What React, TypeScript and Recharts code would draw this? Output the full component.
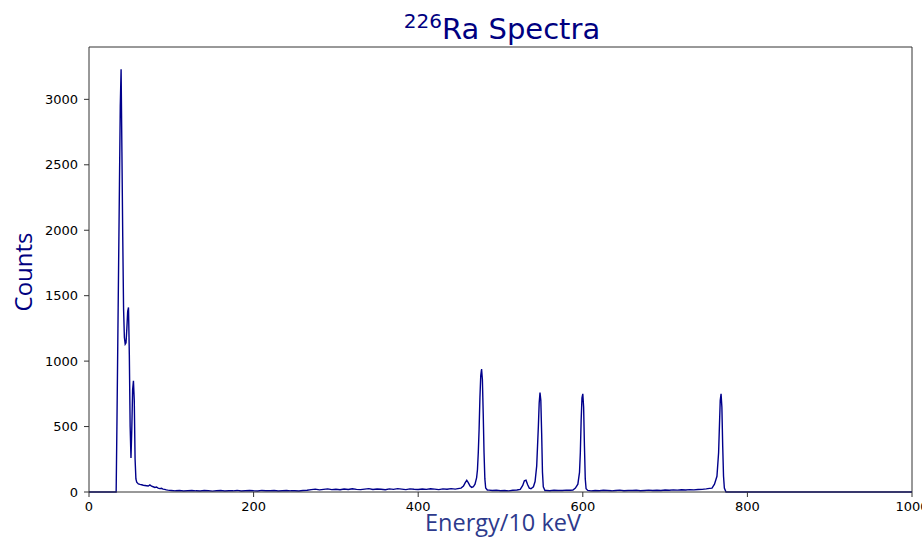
import React from "react";
import {
  LineChart,
  Line,
  XAxis,
  YAxis,
  ReferenceLine,
} from "recharts";

const xrayChannels = [0, 10, 20, 30, 33, 34, 35, 36, 37, 38, 39, 40, 41, 42, 43, 44, 45, 46, 47, 48, 49, 50, 51, 52, 53, 54, 55, 56, 57];
const xrayCounts = [0, 0, 0, 0, 0, 550, 1150, 1750, 2350, 2950, 3230, 2600, 1950, 1400, 1180, 1130, 1140, 1250, 1380, 1410, 1050, 500, 260, 480, 780, 850, 700, 250, 100];

const tailChannels = [58, 60, 62, 64, 66, 68, 70, 72, 74, 76, 78, 80, 82, 84, 86, 88, 90, 92, 94, 96];
const tailCounts = [75, 62, 58, 55, 52, 50, 48, 46, 54, 44, 40, 35, 38, 30, 26, 28, 22, 20, 16, 14];

const flatChannels = [100, 105, 110, 115, 120, 125, 130, 135, 140, 145, 150, 155, 160, 165, 170, 175, 180, 185, 190, 195, 200, 205, 210, 215, 220, 225, 230, 235, 240, 245, 250, 255, 260, 265];
const flatCounts = [12, 9, 11, 8, 10, 12, 9, 8, 11, 10, 7, 9, 11, 8, 10, 9, 12, 8, 10, 11, 9, 8, 12, 10, 9, 11, 8, 10, 12, 9, 10, 8, 11, 13];

const comptonChannels = [270, 275, 280, 285, 290, 295, 300, 305, 310, 315, 320, 325, 330, 335, 340, 345, 350, 355, 360, 365, 370, 375, 380, 385, 390, 395, 400, 405, 410, 415, 420, 425, 430, 435, 440, 445, 450];
const comptonCounts = [18, 22, 16, 20, 24, 18, 21, 17, 23, 19, 25, 20, 18, 22, 26, 19, 23, 21, 17, 24, 20, 26, 22, 18, 24, 21, 19, 23, 20, 25, 22, 18, 24, 21, 26, 22, 28];

const peak477Channels = [452, 455, 457, 459, 461, 463, 465, 467, 469, 471, 472, 473, 474, 475, 476, 477, 478, 479, 480, 481, 482, 484];
const peak477Counts = [30, 45, 70, 90, 70, 45, 35, 40, 60, 110, 170, 300, 480, 720, 890, 940, 860, 600, 300, 100, 30, 15];

const peak548Channels = [486, 490, 495, 500, 505, 510, 515, 520, 524, 527, 529, 531, 533, 535, 537, 540, 542, 544, 546, 547, 548, 549, 550, 551, 552, 554];
const peak548Counts = [14, 11, 13, 10, 12, 9, 13, 15, 20, 50, 85, 90, 55, 30, 25, 40, 80, 200, 500, 680, 760, 700, 450, 150, 40, 12];

const peak600Channels = [556, 560, 565, 570, 575, 580, 585, 588, 591, 594, 596, 597, 598, 599, 600, 601, 602, 603, 604, 606];
const peak600Counts = [12, 10, 13, 11, 12, 14, 13, 15, 30, 60, 150, 300, 550, 720, 750, 650, 350, 100, 25, 12];

const peak768Channels = [610, 615, 620, 625, 630, 635, 640, 645, 650, 655, 660, 665, 670, 675, 680, 685, 690, 695, 700, 705, 710, 715, 720, 725, 730, 735, 740, 745, 750, 754, 757, 760, 763, 765, 766, 767, 768, 769, 770, 771, 772, 774, 800, 900, 1000];
const peak768Counts = [9, 12, 10, 13, 11, 9, 12, 14, 10, 12, 11, 13, 10, 12, 14, 11, 13, 12, 15, 13, 16, 14, 17, 15, 18, 16, 19, 20, 24, 28, 30, 60, 120, 300, 500, 700, 750, 650, 350, 120, 30, 0, 0, 0, 0];

const xTicks = [0, 200, 400, 600, 800, 1000];
const yTicks = [0, 500, 1000, 1500, 2000, 2500, 3000];

const channels = [...xrayChannels, ...tailChannels, ...flatChannels, ...comptonChannels, ...peak477Channels, ...peak548Channels, ...peak600Channels, ...peak768Channels];
const counts = [...xrayCounts, ...tailCounts, ...flatCounts, ...comptonCounts, ...peak477Counts, ...peak548Counts, ...peak600Counts, ...peak768Counts];

const spectrum = channels.map((ch, i) => ({ ch, counts: counts[i] }));

const tickStyle = { fontSize: 13, fill: "#000", fontFamily: "DejaVu Sans" };

export default function App(): React.ReactElement {
  return (
    <div style={{ position: "absolute", left: 0, top: 0, width: 922, height: 538, background: "#fff" }}>
      <LineChart
        width={922}
        height={538}
        data={spectrum}
        margin={{ top: 47, right: 10, bottom: 0, left: 0 }}
      >
        <XAxis
          dataKey="ch"
          type="number"
          domain={[0, 1000]}
          ticks={xTicks}
          height={46}
          tickSize={5}
          tickMargin={5}
          tick={tickStyle}
          stroke="#333"
          interval={0}
        />
        <YAxis
          type="number"
          domain={[0, 3400]}
          ticks={yTicks}
          width={89}
          tickSize={5}
          tickMargin={6}
          tick={tickStyle}
          stroke="#333"
          interval={0}
        />
        <ReferenceLine y={3400} stroke="#333" />
        <ReferenceLine x={1000} stroke="#333" />
        <Line
          type="linear"
          dataKey="counts"
          stroke="#00008b"
          strokeWidth={1.4}
          dot={false}
          isAnimationActive={false}
        />
      </LineChart>
      <svg
        width={922}
        height={538}
        style={{ position: "absolute", left: 0, top: 0, pointerEvents: "none" }}
      >
        <text x={502} y={39} textAnchor="middle" fontFamily="DejaVu Sans" fontSize={29} fill="#000080">
          <tspan fontSize={20} dy={-11}>226</tspan>
          <tspan dy={11}>Ra Spectra</tspan>
        </text>
        <text
          x={32}
          y={272}
          transform="rotate(-90 32 272)"
          textAnchor="middle"
          fontFamily="Open Sans"
          fontSize={24}
          fill="#000080"
        >
          Counts
        </text>
        <text x={503} y={531} textAnchor="middle" fontFamily="Open Sans" fontSize={23.5} fill="#2d3a8c">
          Energy/10 keV
        </text>
      </svg>
    </div>
  );
}
